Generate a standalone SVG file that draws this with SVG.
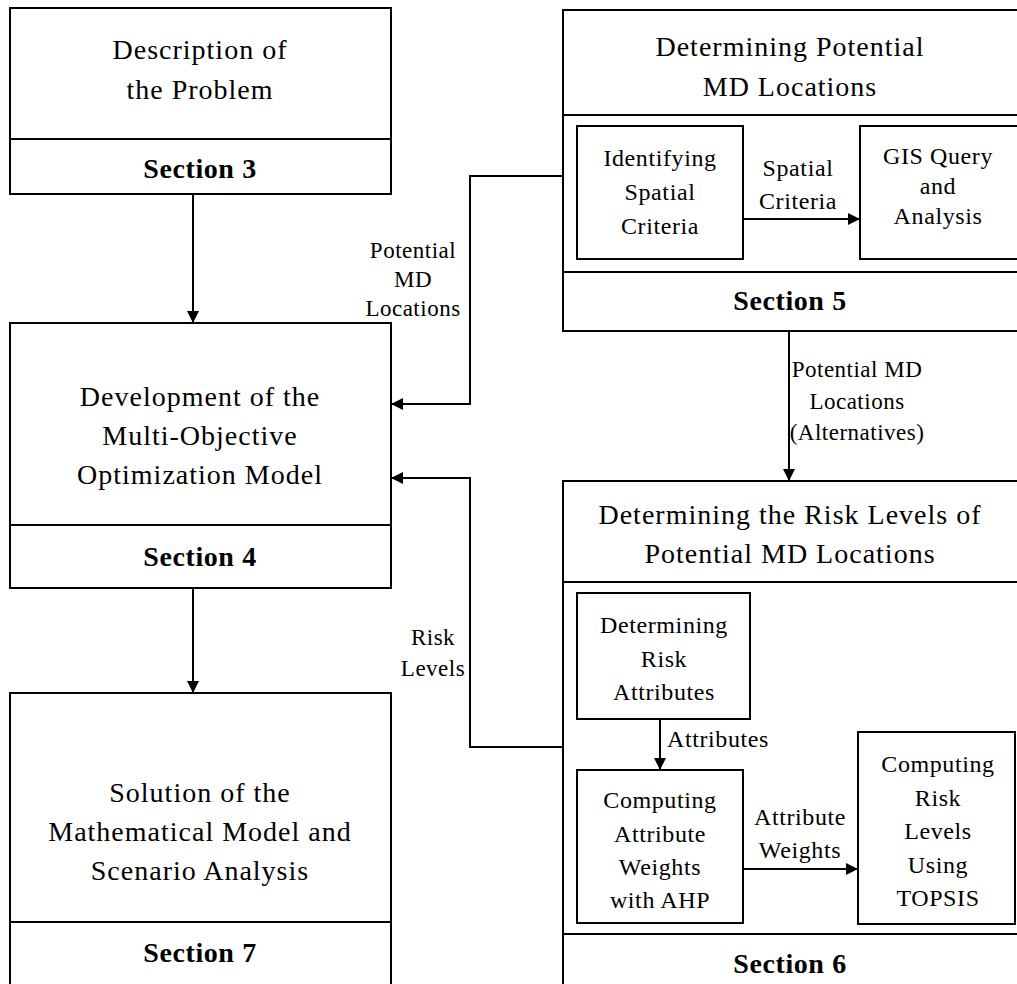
<svg xmlns="http://www.w3.org/2000/svg" width="1017" height="984" viewBox="0 0 1017 984">
  <style>
    .box { fill: #ffffff; stroke: #000000; stroke-width: 2; }
    .rule { stroke: #000000; stroke-width: 2; fill: none; }
    .link { stroke: #000000; stroke-width: 2; fill: none; }
    text { font-family: "Liberation Serif", "Times New Roman", serif; fill: #000000; text-anchor: middle; }
    .title { font-size: 28px; letter-spacing: 1px; }
    .sec { font-size: 28px; font-weight: bold; letter-spacing: 0.6px; }
    .inner { font-size: 24px; letter-spacing: 0.6px; }
    .lbl { font-size: 23px; letter-spacing: 0.5px; }
  </style>
  <defs>
    <marker id="arrow" viewBox="0 0 12 12" refX="12" refY="6" markerWidth="12" markerHeight="12" markerUnits="userSpaceOnUse" orient="auto">
      <path d="M0,0 L12,6 L0,12 Z" fill="#000000"/>
    </marker>
  </defs>
  <rect width="1017" height="984" fill="#ffffff"/>

  <!-- Section 3 -->
  <g id="node-problem">
    <rect class="box" x="10" y="8" width="381" height="186"/>
    <line class="rule" x1="10" y1="139" x2="391" y2="139"/>
    <text class="title" x="200" y="59">Description of</text>
    <text class="title" x="200" y="99">the Problem</text>
    <text class="sec" x="200" y="178">Section 3</text>
  </g>

  <!-- Section 4 -->
  <g id="node-model">
    <rect class="box" x="10" y="323" width="381" height="265"/>
    <line class="rule" x1="10" y1="525" x2="391" y2="525"/>
    <text class="title" x="200" y="406">Development of the</text>
    <text class="title" x="200" y="445">Multi-Objective</text>
    <text class="title" x="200" y="484">Optimization Model</text>
    <text class="sec" x="200" y="566">Section 4</text>
  </g>

  <!-- Section 7 -->
  <g id="node-solution">
    <rect class="box" x="10" y="693" width="381" height="300"/>
    <line class="rule" x1="10" y1="922" x2="391" y2="922"/>
    <text class="title" x="200" y="802">Solution of the</text>
    <text class="title" x="200" y="841">Mathematical Model and</text>
    <text class="title" x="200" y="880">Scenario Analysis</text>
    <text class="sec" x="200" y="962">Section 7</text>
  </g>

  <!-- Section 5 -->
  <g id="node-locations">
    <rect class="box" x="563" y="10" width="470" height="321"/>
    <line class="rule" x1="563" y1="115" x2="1033" y2="115"/>
    <line class="rule" x1="563" y1="272" x2="1033" y2="272"/>
    <text class="title" x="790" y="56">Determining Potential</text>
    <text class="title" x="790" y="96">MD Locations</text>
    <text class="sec" x="790" y="310">Section 5</text>
  </g>
  <g id="node-criteria">
    <rect class="box" x="577" y="126" width="166" height="133"/>
    <text class="inner" x="660" y="166">Identifying</text>
    <text class="inner" x="660" y="200">Spatial</text>
    <text class="inner" x="660" y="234">Criteria</text>
  </g>
  <g id="node-gis">
    <rect class="box" x="860" y="126" width="170" height="133"/>
    <text class="inner" x="938" y="164">GIS Query</text>
    <text class="inner" x="938" y="194">and</text>
    <text class="inner" x="938" y="224">Analysis</text>
  </g>

  <!-- Section 6 -->
  <g id="node-risk">
    <rect class="box" x="563" y="481" width="470" height="520"/>
    <line class="rule" x1="563" y1="582" x2="1033" y2="582"/>
    <line class="rule" x1="563" y1="934" x2="1033" y2="934"/>
    <text class="title" x="790" y="524">Determining the Risk Levels of</text>
    <text class="title" x="790" y="563">Potential MD Locations</text>
    <text class="sec" x="790" y="973">Section 6</text>
  </g>
  <g id="node-attributes">
    <rect class="box" x="577" y="593" width="173" height="126"/>
    <text class="inner" x="664" y="633">Determining</text>
    <text class="inner" x="664" y="667">Risk</text>
    <text class="inner" x="664" y="700">Attributes</text>
  </g>
  <g id="node-ahp">
    <rect class="box" x="577" y="770" width="166" height="153"/>
    <text class="inner" x="660" y="808">Computing</text>
    <text class="inner" x="660" y="842">Attribute</text>
    <text class="inner" x="660" y="875">Weights</text>
    <text class="inner" x="660" y="908">with AHP</text>
  </g>
  <g id="node-topsis">
    <rect class="box" x="858" y="732" width="157" height="192"/>
    <text class="inner" x="938" y="772">Computing</text>
    <text class="inner" x="938" y="806">Risk</text>
    <text class="inner" x="938" y="839">Levels</text>
    <text class="inner" x="938" y="873">Using</text>
    <text class="inner" x="938" y="906">TOPSIS</text>
  </g>

  <!-- Connectors -->
  <g id="connectors">
    <line class="link" x1="193" y1="194" x2="193" y2="323" marker-end="url(#arrow)"/>
    <line class="link" x1="193" y1="588" x2="193" y2="693" marker-end="url(#arrow)"/>
    <polyline class="link" points="563,176 470,176 470,404 391,404" marker-end="url(#arrow)"/>
    <polyline class="link" points="563,747 470,747 470,478 391,478" marker-end="url(#arrow)"/>
    <line class="link" x1="789" y1="331" x2="789" y2="481" marker-end="url(#arrow)"/>
    <line class="link" x1="743" y1="219" x2="860" y2="219" marker-end="url(#arrow)"/>
    <line class="link" x1="660" y1="719" x2="660" y2="770" marker-end="url(#arrow)"/>
    <line class="link" x1="743" y1="869" x2="858" y2="869" marker-end="url(#arrow)"/>
  </g>

  <!-- Connector labels -->
  <g id="labels">
    <text class="lbl" x="413" y="258">Potential</text>
    <text class="lbl" x="413" y="287">MD</text>
    <text class="lbl" x="413" y="316">Locations</text>
    <text class="lbl" x="857" y="377">Potential MD</text>
    <text class="lbl" x="857" y="409">Locations</text>
    <text class="lbl" x="857" y="440">(Alternatives)</text>
    <text class="inner" x="798" y="176">Spatial</text>
    <text class="inner" x="798" y="209">Criteria</text>
    <text class="lbl" x="433" y="645">Risk</text>
    <text class="lbl" x="433" y="676">Levels</text>
    <text class="inner" x="718" y="747">Attributes</text>
    <text class="inner" x="800" y="825">Attribute</text>
    <text class="inner" x="800" y="858">Weights</text>
  </g>
</svg>
